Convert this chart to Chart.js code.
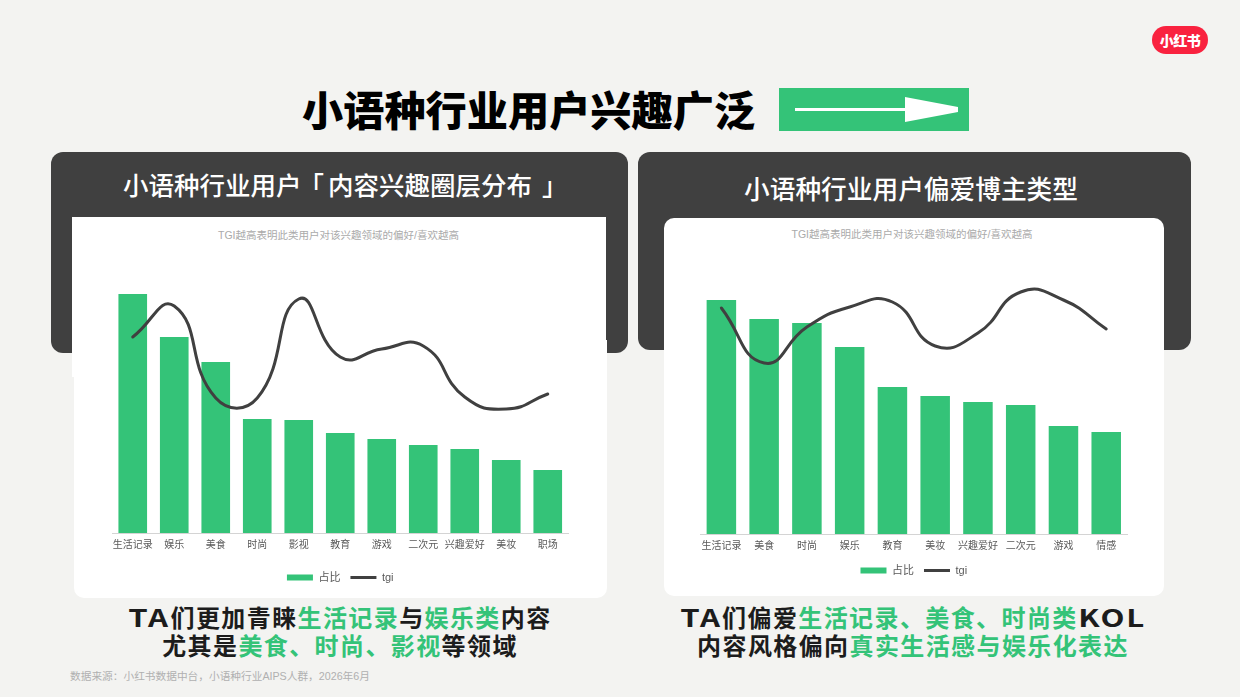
<!DOCTYPE html>
<html lang="zh-CN"><head><meta charset="utf-8">
<script src="https://cdn.jsdelivr.net/npm/chart.js@4"></script>
<style>
html,body{margin:0;padding:0;background:#f3f3f1;}
body{width:1240px;height:697px;position:relative;overflow:hidden;font-family:"Liberation Sans","Noto Sans CJK SC",sans-serif;}
.a{position:absolute;}
.t{white-space:nowrap;text-align:center;}
.h{font-family:"Noto Sans CJK SC",sans-serif;}
b.g{color:#34c378;font-weight:inherit;}
i.l{font-style:normal;display:inline-block;transform:scaleX(1.3);letter-spacing:1.4px;margin:0 5px;}
canvas{position:absolute;display:block;}
.line{line-height:30px;font-size:24px;font-weight:700;letter-spacing:1.4px;color:#1c1c1c;width:600px;}
</style></head><body>
<div class="a t h" style="left:1152px;top:26px;width:56px;height:28px;line-height:28px;border-radius:14px;background:#f9223f;color:#fff;font-size:14px;font-weight:900;letter-spacing:-.5px;">小红书</div>
<div class="a t h" style="left:302px;top:78px;width:453px;line-height:60px;font-size:41.2px;font-weight:900;color:#000;">小语种行业用户兴趣广泛</div>
<div class="a" style="left:779px;top:88px;width:190px;height:43px;background:#34c378;"></div>
<div class="a" style="left:795px;top:107.5px;width:110px;height:3.5px;background:#fff;"></div>
<div class="a" style="left:905px;top:97px;width:53px;height:25px;background:#fff;clip-path:polygon(0 0,100% 40%,100% 60%,0 100%);"></div>

<div class="a" style="left:51px;top:152px;width:577px;height:201px;background:#404040;border-radius:12px;"></div>
<div class="a" style="left:638px;top:152px;width:553px;height:198px;background:#404040;border-radius:12px;"></div>
<div class="a h" style="left:123px;top:164px;white-space:nowrap;line-height:40px;font-size:25.5px;font-weight:500;color:#fff;">小语种行业用户<span style="margin-left:-3px;margin-right:4px;">「</span>内容兴趣圈层分布<span style="margin-left:10px;">」</span></div>
<div class="a t h" style="left:638px;top:168px;width:546px;line-height:40px;font-size:25.7px;font-weight:500;color:#fff;">小语种行业用户偏爱博主类型</div>

<div class="a" style="left:72px;top:217px;width:534px;height:160px;background:#fff;"></div>
<div class="a" style="left:74px;top:340px;width:533px;height:258px;background:#fff;border-radius:0 0 10px 10px;"></div>
<div class="a" style="left:664px;top:218px;width:500px;height:378px;background:#fff;border-radius:10px;"></div>
<div class="a t" style="left:72px;top:227px;width:533px;line-height:16px;font-size:10.5px;color:#aaa;">TGI越高表明此类用户对该兴趣领域的偏好/喜欢越高</div>
<div class="a t" style="left:664px;top:226px;width:496px;line-height:16px;font-size:10.5px;color:#aaa;">TGI越高表明此类用户对该兴趣领域的偏好/喜欢越高</div>

<canvas id="c1" width="534" height="370" style="left:72px;top:225px;width:534px;height:370px;"></canvas>
<canvas id="c2" width="500" height="370" style="left:664px;top:226px;width:500px;height:370px;"></canvas>

<div class="a t h line" style="left:40px;top:602px;"><i class="l">TA</i>们更加青睐<b class="g">生活记录</b>与<b class="g">娱乐类</b>内容</div>
<div class="a t h line" style="left:40px;top:630px;">尤其是<b class="g">美食、时尚、影视</b>等领域</div>
<div class="a t h line" style="left:613px;top:602px;"><i class="l">TA</i>们偏爱<b class="g">生活记录、美食、时尚类</b><i class="l" style="margin:0 8px;">KOL</i></div>
<div class="a t h line" style="left:613px;top:630px;">内容风格偏向<b class="g">真实生活感与娱乐化表达</b></div>
<div class="a" style="left:70px;top:668px;line-height:16px;font-size:10.7px;color:#b0b0b0;white-space:nowrap;">数据来源：小红书数据中台，小语种行业AIPS人群，2026年6月</div>

<script>
const interestCategories = ["生活记录","娱乐","美食","时尚","影视","教育","游戏","二次元","兴趣爱好","美妆","职场"];
const interestShare = [23.9,19.6,17.1,11.4,11.3,10.0,9.4,8.8,8.4,7.3,6.3];
const interestTgi = [196,227,135,135,234,176,184,187,136,124,139];
const bloggerCategories = ["生活记录","美食","时尚","娱乐","教育","美妆","兴趣爱好","二次元","游戏","情感"];
const bloggerShare = [23.4,21.5,21.1,18.7,14.7,13.8,13.2,12.9,10.8,10.2];
const bloggerTgi = [226,171,207,227,232,188,201,242,234,205];
const shareLabel = "占比";
const tgiLabel = "tgi";
const GREEN = "#34c378", DARK = "#404040";
const FONT = '"Liberation Sans","Noto Sans CJK SC",sans-serif';

function build(id, cats, share, tgi, pad, xHeight){
  new Chart(document.getElementById(id), {
    data: { labels: cats, datasets: [
      { type:"bar", label:shareLabel, data:share, backgroundColor:GREEN, borderWidth:0,
        categoryPercentage:1, barPercentage:0.69, yAxisID:"y", order:2 },
      { type:"line", label:tgiLabel, data:tgi, borderColor:DARK, backgroundColor:DARK, borderWidth:3,
        pointRadius:0, tension:0.5, fill:false, yAxisID:"y1", order:1, borderCapStyle:"round" }
    ]},
    options: {
      responsive:false, animation:false, devicePixelRatio:1,
      layout:{ padding:pad },
      plugins:{
        tooltip:{enabled:false},
        title:{display:false},
        legend:{ position:"bottom", labels:{ usePointStyle:true, pointStyleWidth:26, boxHeight:6, padding:10,
          color:"#595959", font:{family:FONT,size:11},
          generateLabels(chart){
            return chart.data.datasets.map((d,i)=>({
              text:d.label, datasetIndex:i, fontColor:"#595959",
              fillStyle:i===0?GREEN:DARK, strokeStyle:i===0?GREEN:DARK,
              lineWidth:i===0?0:3, pointStyle:i===0?"rect":"line"
            }));
          } } }
      },
      scales:{
        x:{ grid:{display:false,drawTicks:false}, border:{display:true,color:"#d4d4d4",width:1},
          ticks:{ color:"#595959", font:{family:FONT,size:10}, padding:6, maxRotation:0, minRotation:0, autoSkip:false },
          afterFit(s){ s.height = xHeight; } },
        y:{ display:false, min:0, max:30 },
        y1:{ display:false, min:0, max:300 }
      }
    }
  });
}
build("c1", interestCategories, interestShare, interestTgi, {left:40,right:37.5,top:8,bottom:2}, 29);
build("c2", bloggerCategories, bloggerShare, bloggerTgi, {left:36,right:36.4,top:8,bottom:10}, 21);
</script>
</body></html>
